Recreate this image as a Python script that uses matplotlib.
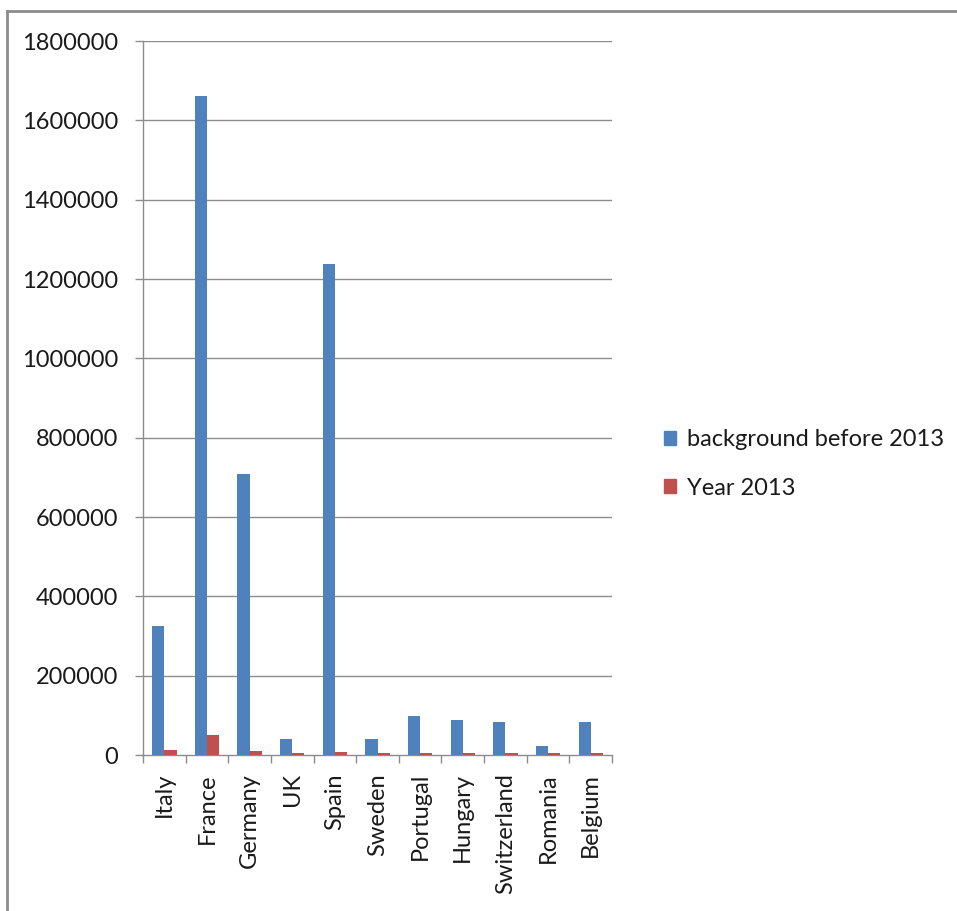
import numpy as np
import matplotlib.pyplot as plt
from matplotlib.lines import Line2D
from matplotlib.patches import Patch

# Country data
countries = ['Italy', 'France', 'Germany', 'UK', 'Spain', 'Sweden',
             'Portugal', 'Hungary', 'Switzerland', 'Romania', 'Belgium']
before_2013 = [324000, 1661000, 708000, 39500, 1238000, 39500,
               97500, 87500, 84000, 22500, 84000]
year_2013 = [13500, 49500, 10000, 4300, 6800, 4000,
             4000, 4000, 4000, 4000, 4000]
y_ticks = [0, 200000, 400000, 600000, 800000, 1000000,
           1200000, 1400000, 1600000, 1800000]

blue = '#4F81BD'
red = '#C0504D'
grid_col = '#8C8C8C'
txt_col = '#1A1A1A'
fs = 17

plt.rcParams['font.family'] = ['Lato', 'DejaVu Sans']

fig = plt.figure(figsize=(9.57, 9.11), dpi=100)
ax = fig.add_axes([143 / 957, 1 - 755 / 911, 469 / 957, 714 / 911])

# Excel style clustered bars: gap width 150%
x = np.arange(len(countries))
w = 1 / 3.5
ax.bar(x - w / 2, before_2013, w, color=blue, label='background before 2013', zorder=3)
ax.bar(x + w / 2, year_2013, w, color=red, label='Year 2013', zorder=3)

ax.set_xlim(-0.5, len(countries) - 0.5)
ax.set_ylim(0, 1800000)
ax.set_yticks(y_ticks)
ax.set_yticklabels([str(v) for v in y_ticks], fontsize=fs, color=txt_col)
for v in y_ticks[1:]:
    ax.axhline(v, color=grid_col, lw=1, zorder=1)

ax.set_xticks(x)
ax.set_xticklabels(countries, rotation=90, fontsize=fs, color=txt_col)
ax.set_xticks(np.arange(len(countries) + 1) - 0.5, minor=True)
ax.tick_params(axis='x', which='major', length=0, pad=13)
ax.tick_params(axis='x', which='minor', length=6, color=grid_col, width=1)
ax.tick_params(axis='y', length=6, color=grid_col, width=1, pad=12)

for s in ['top', 'right']:
    ax.spines[s].set_visible(False)
for s in ['left', 'bottom']:
    ax.spines[s].set_color(grid_col)
    ax.spines[s].set_linewidth(1)

handles = [Patch(color=blue), Patch(color=red)]
fig.legend(handles, ['background before 2013', 'Year 2013'],
           loc='center left', bbox_to_anchor=(643 / 957, 1 - 464 / 911),
           frameon=False, fontsize=fs, handlelength=0.5, handleheight=0.5,
           handletextpad=0.45, labelspacing=1.15, labelcolor=txt_col)

# chart border (only top and left edges visible in the crop)
fig.add_artist(Line2D([7 / 957, 7 / 957], [0, 1 - 11 / 911], color='#8C8C8C', lw=2,
                      transform=fig.transFigure))
fig.add_artist(Line2D([7 / 957, 1], [1 - 11 / 911, 1 - 11 / 911], color='#8C8C8C', lw=2,
                      transform=fig.transFigure))

fig.savefig('out.png', dpi=100)
